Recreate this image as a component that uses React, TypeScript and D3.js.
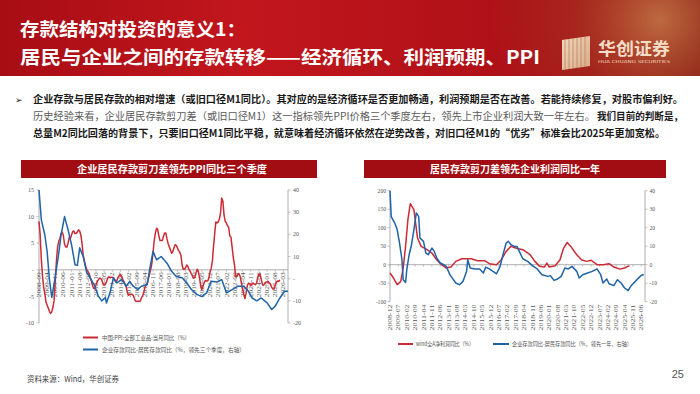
import React from "react";
import * as d3 from "d3";

// ---- data: left chart (PPI vs deposit scissors, lead 3 quarters)
const ppiStart = "2008-09";
const ppiValues = [
  9.1, 6.6, 2.0, -1.1,
  -3.3, -4.5, -6.0, -6.6, -7.2, -7.8, -8.2, -7.9, -7.0, -5.8, -2.1, 1.7,
  4.3, 5.4, 5.9, 6.8, 7.1, 6.4, 4.8, 4.3, 4.3, 5.0, 6.1, 5.9,
  6.6, 7.2, 7.3, 6.8, 6.8, 7.1, 7.5, 7.3, 6.5, 5.0, 2.7, 1.7,
  0.7, 0.0, -0.3, -0.7, -1.4, -2.1, -2.9, -3.5, -3.6, -2.8, -2.2, -1.9,
  -1.6, -1.6, -1.9, -2.6, -2.9, -2.7, -2.3, -1.6, -1.3, -1.5, -1.4, -1.4,
  -1.6, -2.0, -2.3, -2.0, -1.4, -1.1, -0.9, -1.2, -1.8, -2.2, -2.7, -3.3,
  -4.3, -4.8, -4.6, -4.6, -4.6, -4.8, -5.4, -5.9, -5.9, -5.9, -5.9, -5.9,
  -5.3, -4.9, -4.3, -3.4, -2.8, -2.6, -1.7, -0.8, 0.1, 1.2, 3.3, 5.5,
  6.9, 7.8, 7.6, 6.4, 5.5, 5.5, 5.5, 6.3, 6.9, 6.9, 5.8, 4.9,
  4.3, 3.7, 3.1, 3.4, 4.1, 4.7, 4.6, 4.1, 3.6, 3.3, 2.7, 0.9,
  0.1, 0.1, 0.4, 0.9, 0.6, 0.0, -0.3, -0.8, -1.2, -1.6, -1.4, -0.5,
  0.1, -0.4, -1.5, -3.1, -3.7, -3.0, -2.4, -2.0, -2.1, -2.1, -1.5, -0.4,
  0.3, 1.7, 4.4, 6.8, 9.0, 8.8, 9.0, 9.5, 10.7, 13.5, 12.9, 10.3,
  9.1, 8.8, 8.3, 8.0, 6.4, 6.1, 4.2, 2.3, 0.9, -1.3, -1.3, -0.7,
  -0.8, -1.4, -2.5, -3.6, -4.6, -5.4, -4.4, -3.0, -2.5, -2.6, -3.0, -2.7,
  -2.5, -2.7, -2.8, -2.5, -1.4, -0.8, -0.8, -1.8, -2.8, -2.9, -2.5, -2.3,
  -2.3, -2.2, -2.5, -2.7, -3.3, -3.6, -3.6, -2.9, -2.3, -2.1, -2.2, -1.9,
];

const leadDates = [
  "2008-09", "2008-11", "2009-02", "2009-04", "2009-06", "2009-08", "2009-11", "2010-02", "2010-04", "2010-07",
  "2010-10", "2011-01", "2011-04", "2011-06", "2011-08", "2011-11", "2012-02", "2012-05", "2012-09", "2012-12",
  "2013-03", "2013-06", "2013-07", "2013-10", "2014-01", "2014-04", "2014-08", "2014-12", "2015-03", "2015-06",
  "2015-10", "2016-01", "2016-06", "2016-08", "2016-11", "2017-02", "2017-06", "2017-11", "2018-03", "2018-07",
  "2018-12", "2019-04", "2019-08", "2020-01", "2020-05", "2020-09", "2021-01", "2021-06", "2021-10", "2022-02",
  "2022-07", "2022-12", "2023-05", "2023-09", "2023-12", "2024-04", "2024-08", "2025-01", "2025-05", "2025-08",
  "2025-12", "2026-04", "2026-07",
];
const leadValues = [
  40, 26.5, 19.7, 12.3, -0.4, -8.5, 1, 11.6, 19.7, 28,
  22, 15.2, 6.3, 6, 13.9, 10, 2.7, 0.4, -3.4, -7.9,
  -10, -8.5, -11, -6.4, 0.4, -1.9, -0.4, -3.4, -1.2, -3.4,
  -4.9, -3.4, -2.7, 4, 12.3, 8.5, 10, 7, 3.3, 1,
  0.4, -1.9, -4.9, -7.2, -8.1, -6.4, -1.2, -1.5, -0.4, -6.4,
  -4.9, -3.4, -3.4, -5.7, -8.7, -10, -8.7, -10.9, -13.9, -12.4,
  -8.7, -5.7, -5.7,
];

// ---- data: right chart (profits vs deposit scissors, lead 1 year)
const profitDates = [
  "2008-12", "2009-03", "2009-06", "2009-09", "2009-11", "2010-01", "2010-03", "2010-05", "2010-08", "2010-11",
  "2011-02", "2011-07", "2011-11", "2012-03", "2012-07", "2012-11", "2013-03", "2013-07", "2013-12", "2014-08",
  "2015-01", "2015-07", "2015-11", "2016-05", "2016-09", "2017-01", "2017-05", "2017-09", "2018-03", "2018-09",
  "2019-01", "2019-05", "2019-09", "2019-11", "2020-01", "2020-06", "2020-10", "2021-01", "2021-04", "2021-07",
  "2021-12", "2022-04", "2022-08", "2022-12", "2023-05", "2023-10", "2024-03", "2024-07", "2024-12", "2025-04",
  "2025-08",
];
const profitValues = [
  -22.5, -36, -54, -45, -9, 49.5, 121.6, 165, 148.6, 72,
  49.5, 40.5, 31.5, 13.5, 0, -9, -6.3, 9, 16.2, 16.2,
  10.8, 10.8, 2.7, 0, 13.5, 36, 49.5, 45, 40.5, 27,
  9, -4.5, -6.3, 4.5, -6.3, -2.7, 13.5, 45, 60, 49.5,
  27, 13.5, 9, 12, 0, 0, 2.7, -6.3, -12, -9,
  -2.7,
];

const yearLeadDates = [
  "2008-12", "2009-01", "2009-04", "2009-06", "2009-08", "2009-10", "2009-11", "2010-01", "2010-02", "2010-04",
  "2010-06", "2010-08", "2010-10", "2010-12", "2011-01", "2011-04", "2011-06", "2011-08", "2011-11", "2012-01",
  "2012-03", "2012-06", "2012-09", "2012-11", "2013-02", "2013-05", "2013-07", "2013-10", "2014-01", "2014-04",
  "2014-05", "2014-07", "2014-11", "2015-03", "2015-06", "2015-08", "2015-11", "2016-02", "2016-05", "2016-08",
  "2016-10", "2017-01", "2017-03", "2017-05", "2017-08", "2017-10", "2017-12", "2018-03", "2018-07", "2018-11",
  "2019-03", "2019-07", "2019-12", "2020-02", "2020-05", "2020-08", "2020-11", "2021-02", "2021-05", "2021-08",
  "2021-12", "2022-02", "2022-05", "2022-09", "2023-01", "2023-05", "2023-08", "2023-10", "2024-01", "2024-03",
  "2024-07", "2024-10", "2025-01", "2025-04", "2025-07", "2025-09", "2025-12", "2026-05", "2026-07", "2026-08",
];
const yearLeadValues = [
  40, 26, 22.5, 19, 11.7, 2.7, -8.1, -9.6, -2.7, 5.4,
  10.8, 19, 28, 26, 14.4, 12.6, 6.3, 5.4, 9, 7.2,
  3.6, 0.9, 0, -0.9, -5.4, -8.1, -9.9, -10.8, -9, -3.6,
  2.7, -1.8, -2.3, -2.3, -4.5, -1.3, -2.3, -3.6, -4.9, -0.9,
  4.5, 11.7, 12.6, 10.8, 9.9, 9.9, 7.2, 3.2, 1.8, -0.5,
  -2.3, -5.4, -6.3, -5.9, -8.5, -7.7, -6.3, -1.8, -2.3, -0.9,
  -3.6, -7.2, -5.4, -4.5, -3.6, -2.3, -5.4, -9.9, -7.7, -10.3,
  -11.3, -8.1, -9.9, -12.6, -14, -11.7, -9.6, -6.3, -5.4, -5.4,
];

// ---- axis ticks / labels
const leftAxisTicks = [-10, -5, 0, 5, 10, 15];
const leftAxis2Ticks = [-20, -10, 0, 10, 20, 30, 40];
const rightAxisTicks = [-100, -50, 0, 50, 100, 150, 200];
const rightAxis2Ticks = [-20, -10, 0, 10, 20, 30, 40];

const leftDateLabels = [
  "2008-09", "2009-04", "2009-11", "2010-06", "2011-01", "2011-08", "2012-03", "2012-10", "2013-05", "2013-12",
  "2014-07", "2015-02", "2015-09", "2016-04", "2016-11", "2017-06", "2018-01", "2018-08", "2019-03", "2019-10",
  "2020-05", "2020-12", "2021-07", "2022-02", "2022-09", "2023-04", "2023-11", "2024-06", "2025-01", "2025-08",
  "2026-03",
];
const rightDateLabels = [
  "2008-12", "2009-07", "2010-02", "2010-09", "2011-04", "2011-11", "2012-06", "2013-01", "2013-08", "2014-03",
  "2014-10", "2015-05", "2015-12", "2016-07", "2017-02", "2017-09", "2018-04", "2018-11", "2019-06", "2020-01",
  "2020-08", "2021-03", "2021-10", "2022-05", "2022-12", "2023-07", "2024-02", "2024-09", "2025-04", "2025-11",
  "2026-06",
];

const RED = "#cc2b35";
const BLUE = "#1f63a8";
const AXIS = "#9a9a9a";
const CJK = "'Noto Sans CJK SC', 'Noto Sans', sans-serif";
const SERIF = "'Liberation Serif', 'DejaVu Serif', serif";

const parse = d3.timeParse("%Y-%m");

function fmtZero(v: number) {
  return v === 0 ? "-" : String(v);
}

function App() {
  // left chart scales
  const xL = d3.scaleTime().domain([parse("2008-09")!, parse("2026-07")!]).range([39, 288]);
  const yL = d3.scaleLinear().domain([-10, 15]).range([323, 190]);
  const yL2 = d3.scaleLinear().domain([-20, 40]).range([323, 190]);

  // right chart scales
  const xR = d3.scaleTime().domain([parse("2008-12")!, parse("2026-09")!]).range([390, 645]);
  const yR = d3.scaleLinear().domain([-100, 200]).range([301.7, 190.7]);
  const yR2 = d3.scaleLinear().domain([-20, 40]).range([301.7, 190.7]);

  const ppiStartDate = parse(ppiStart)!;
  const ppiPts: [Date, number][] = ppiValues.map((v, i) => [d3.timeMonth.offset(ppiStartDate, i), v]);
  const leadPts: [Date, number][] = leadDates.map((d, i) => [parse(d)!, leadValues[i]]);
  const profitPts: [Date, number][] = profitDates.map((d, i) => [parse(d)!, profitValues[i]]);
  const yearPts: [Date, number][] = yearLeadDates.map((d, i) => [parse(d)!, yearLeadValues[i]]);

  const lineOf = (x: any, y: any) =>
    d3.line<[Date, number]>().x((d) => x(d[0])).y((d) => y(d[1]));

  const zeroL = yL(0);
  const zeroR = yR(0);

  const bodyY = [102.5, 119.5, 136.5];

  return (
    <svg
      width={700}
      height={394}
      style={{ position: "absolute", left: 0, top: 0, background: "#fff" }}
    >
      <defs>
        <linearGradient id="hdr" x1="0" x2="1" y1="0" y2="0">
          <stop offset="0" stopColor="#a80d14" />
          <stop offset="0.35" stopColor="#c2161d" />
          <stop offset="0.7" stopColor="#b01118" />
          <stop offset="1" stopColor="#7c090c" />
        </linearGradient>
        <radialGradient id="glow" cx="660" cy="20" r="170" gradientUnits="userSpaceOnUse">
          <stop offset="0" stopColor="#e9b86a" stopOpacity="0.55" />
          <stop offset="0.5" stopColor="#d9904a" stopOpacity="0.18" />
          <stop offset="1" stopColor="#d9904a" stopOpacity="0" />
        </radialGradient>
        <linearGradient id="icon" x1="0" x2="1" y1="0" y2="1">
          <stop offset="0" stopColor="#f3d8bf" />
          <stop offset="1" stopColor="#d9a987" />
        </linearGradient>
      </defs>

      {/* header */}
      <rect x={0} y={0} width={700} height={76} fill="url(#hdr)" />
      <rect x={0} y={0} width={700} height={76} fill="url(#glow)" />
      <text x={20} y={36} fill="#fff" fontFamily={CJK} fontWeight={700} fontSize={18.5} textLength={226} lengthAdjust="spacingAndGlyphs">
        存款结构对投资的意义1：
      </text>
      <text x={20} y={64} fill="#fff" fontFamily={CJK} fontWeight={700} fontSize={18.5} textLength={520} lengthAdjust="spacingAndGlyphs">
        居民与企业之间的存款转移——经济循环、利润预期、PPI
      </text>

      {/* logo */}
      <g>
        <polygon points="562,40 590,36 590,66 562,70" fill="url(#icon)" />
        {d3.range(6).map((i) => (
          <line key={i} x1={565 + i * 4} y1={39.5 - i * 0.5} x2={565 + i * 4} y2={69.5 - i * 0.5} stroke="#b88560" strokeWidth={0.8} />
        ))}
        <text x={598} y={55} fill="#f5dcc6" fontFamily={CJK} fontWeight={700} fontSize={17} textLength={72} lengthAdjust="spacingAndGlyphs">
          华创证券
        </text>
        <text x={598} y={63} fill="#f0d2bb" fontFamily="'DejaVu Sans', sans-serif" fontSize={4.2} textLength={72} lengthAdjust="spacingAndGlyphs">
          HUA CHUANG SECURITIES
        </text>
      </g>

      {/* body text */}
      <text x={15} y={bodyY[0]} fontFamily="'DejaVu Sans', sans-serif" fontSize={9} fill="#222">➢</text>
      <text x={33} y={bodyY[0]} fontFamily={CJK} fontWeight={700} fontSize={10} fill="#1a1a1a" textLength={650} lengthAdjust="spacingAndGlyphs">
        企业存款与居民存款的相对增速（或旧口径M1同比）。其对应的是经济循环是否更加畅通，利润预期是否在改善。若能持续修复，对股市偏利好。
      </text>
      <text x={33} y={bodyY[1]} fontFamily={CJK} fontSize={10} fill="#5a5a5a" textLength={562} lengthAdjust="spacingAndGlyphs">
        历史经验来看，企业居民存款剪刀差（或旧口径M1）这一指标领先PPI价格三个季度左右，领先上市企业利润大致一年左右。
      </text>
      <text x={597} y={bodyY[1]} fontFamily={CJK} fontWeight={700} fontSize={10} fill="#1a1a1a" textLength={86} lengthAdjust="spacingAndGlyphs">
        我们目前的判断是，
      </text>
      <text x={33} y={bodyY[2]} fontFamily={CJK} fontWeight={700} fontSize={10} fill="#1a1a1a" textLength={632} lengthAdjust="spacingAndGlyphs">
        总量M2同比回落的背景下，只要旧口径M1同比平稳，就意味着经济循环依然在逆势改善，对旧口径M1的“优劣”标准会比2025年更加宽松。
      </text>

      {/* panel titles */}
      <rect x={21} y={160} width={296} height={18} fill="#a10d12" />
      <text x={172} y={172.5} textAnchor="middle" fill="#fff" fontFamily={CJK} fontWeight={700} fontSize={10.5} textLength={190} lengthAdjust="spacingAndGlyphs">
        企业居民存款剪刀差领先PPI同比三个季度
      </text>
      <rect x={364} y={160} width={302} height={18} fill="#a10d12" />
      <text x={515} y={172.5} textAnchor="middle" fill="#fff" fontFamily={CJK} fontWeight={700} fontSize={10.5} textLength={170} lengthAdjust="spacingAndGlyphs">
        居民存款剪刀差领先企业利润同比一年
      </text>

      {/* ===== left chart ===== */}
      <g>
        <line x1={39} x2={39} y1={190} y2={323} stroke={AXIS} strokeWidth={0.8} />
        {leftAxisTicks.map((t) => (
          <g key={t}>
            <line x1={36.5} x2={39} y1={yL(t)} y2={yL(t)} stroke={AXIS} strokeWidth={0.6} />
            <text x={34} y={yL(t)} dy="0.35em" textAnchor="end" fontFamily={SERIF} fontSize={6} fill="#555">
              {fmtZero(t)}
            </text>
          </g>
        ))}
        <line x1={288} x2={288} y1={190} y2={323} stroke={AXIS} strokeWidth={0.8} />
        {leftAxis2Ticks.map((t) => (
          <g key={t}>
            <line x1={288} x2={290.5} y1={yL2(t)} y2={yL2(t)} stroke={AXIS} strokeWidth={0.6} />
            <text x={293} y={yL2(t)} dy="0.35em" textAnchor="start" fontFamily={SERIF} fontSize={6} fill="#555">
              {fmtZero(t)}
            </text>
          </g>
        ))}
        <line x1={39} x2={288} y1={zeroL} y2={zeroL} stroke={AXIS} strokeWidth={0.8} />
        {leftDateLabels.map((d) => {
          const x = xL(parse(d)!);
          return (
            <g key={d}>
              <line x1={x} x2={x} y1={zeroL} y2={zeroL + 2} stroke={AXIS} strokeWidth={0.6} />
              <text
                transform={`translate(${x + 2.1},${zeroL + 2.5}) rotate(-90)`}
                textAnchor="end"
                fontFamily={SERIF}
                fontSize={6}
                fill="#555"
                textLength={25}
                lengthAdjust="spacingAndGlyphs"
              >
                {d}
              </text>
            </g>
          );
        })}
        <path d={lineOf(xL, yL)(ppiPts) ?? ""} fill="none" stroke={RED} strokeWidth={1.5} strokeLinejoin="round" />
        <path d={lineOf(xL, yL2)(leadPts) ?? ""} fill="none" stroke={BLUE} strokeWidth={1.5} strokeLinejoin="round" />

        {/* legend */}
        <line x1={83} x2={98} y1={337.5} y2={337.5} stroke={RED} strokeWidth={2} />
        <text x={102} y={339.5} fontFamily={CJK} fontSize={5.8} fill="#555" textLength={88} lengthAdjust="spacingAndGlyphs">
          中国:PPI:全部工业品:当月同比（%）
        </text>
        <line x1={83} x2={98} y1={349.5} y2={349.5} stroke={BLUE} strokeWidth={2} />
        <text x={102} y={351.5} fontFamily={CJK} fontSize={5.8} fill="#555" textLength={143} lengthAdjust="spacingAndGlyphs">
          企业存款同比-居民存款同比（%，领先三个季度，右轴）
        </text>
      </g>

      {/* ===== right chart ===== */}
      <g>
        <line x1={390} x2={390} y1={190.7} y2={301.7} stroke={AXIS} strokeWidth={0.8} />
        {rightAxisTicks.map((t) => (
          <g key={t}>
            <line x1={387.5} x2={390} y1={yR(t)} y2={yR(t)} stroke={AXIS} strokeWidth={0.6} />
            <text x={386} y={yR(t)} dy="0.35em" textAnchor="end" fontFamily={SERIF} fontSize={5.6} fill="#555">
              {t}
            </text>
          </g>
        ))}
        <line x1={645} x2={645} y1={190.7} y2={301.7} stroke={AXIS} strokeWidth={0.8} />
        {rightAxis2Ticks.map((t) => (
          <g key={t}>
            <line x1={645} x2={647.5} y1={yR2(t)} y2={yR2(t)} stroke={AXIS} strokeWidth={0.6} />
            <text x={649.5} y={yR2(t)} dy="0.35em" textAnchor="start" fontFamily={SERIF} fontSize={5.6} fill="#555">
              {t}
            </text>
          </g>
        ))}
        <line x1={390} x2={645} y1={zeroR} y2={zeroR} stroke={AXIS} strokeWidth={0.8} />
        {rightDateLabels.map((d) => {
          const x = xR(parse(d)!);
          return (
            <g key={d}>
              <line x1={x} x2={x} y1={zeroR} y2={zeroR + 2} stroke={AXIS} strokeWidth={0.6} />
              <text
                transform={`translate(${x + 2.1},${304.5}) rotate(-90)`}
                textAnchor="end"
                fontFamily={SERIF}
                fontSize={6}
                fill="#555"
                textLength={26}
                lengthAdjust="spacingAndGlyphs"
              >
                {d}
              </text>
            </g>
          );
        })}
        <path d={lineOf(xR, yR)(profitPts) ?? ""} fill="none" stroke={RED} strokeWidth={1.5} strokeLinejoin="round" />
        <path d={lineOf(xR, yR2)(yearPts) ?? ""} fill="none" stroke={BLUE} strokeWidth={1.5} strokeLinejoin="round" />

        {/* legend */}
        <line x1={398} x2={413} y1={344} y2={344} stroke={RED} strokeWidth={2} />
        <text x={416} y={346} fontFamily={CJK} fontSize={5.8} fill="#555" textLength={58} lengthAdjust="spacingAndGlyphs">
          wind全A净利润同比（%）
        </text>
        <line x1={493} x2={509} y1={344} y2={344} stroke={BLUE} strokeWidth={2} />
        <text x={512} y={346} fontFamily={CJK} fontSize={5.8} fill="#555" textLength={120} lengthAdjust="spacingAndGlyphs">
          企业存款同比-居民存款同比（%，领先一年，右轴）
        </text>
      </g>

      {/* footer */}
      <text x={27} y={382} fontFamily={CJK} fontSize={8} fill="#444" textLength={92} lengthAdjust="spacingAndGlyphs">
        资料来源：Wind，华创证券
      </text>
      <text x={684} y={378} textAnchor="end" fontFamily="'Liberation Sans', Arial, sans-serif" fontSize={11} fill="#555">
        25
      </text>
    </svg>
  );
}

export default App;
